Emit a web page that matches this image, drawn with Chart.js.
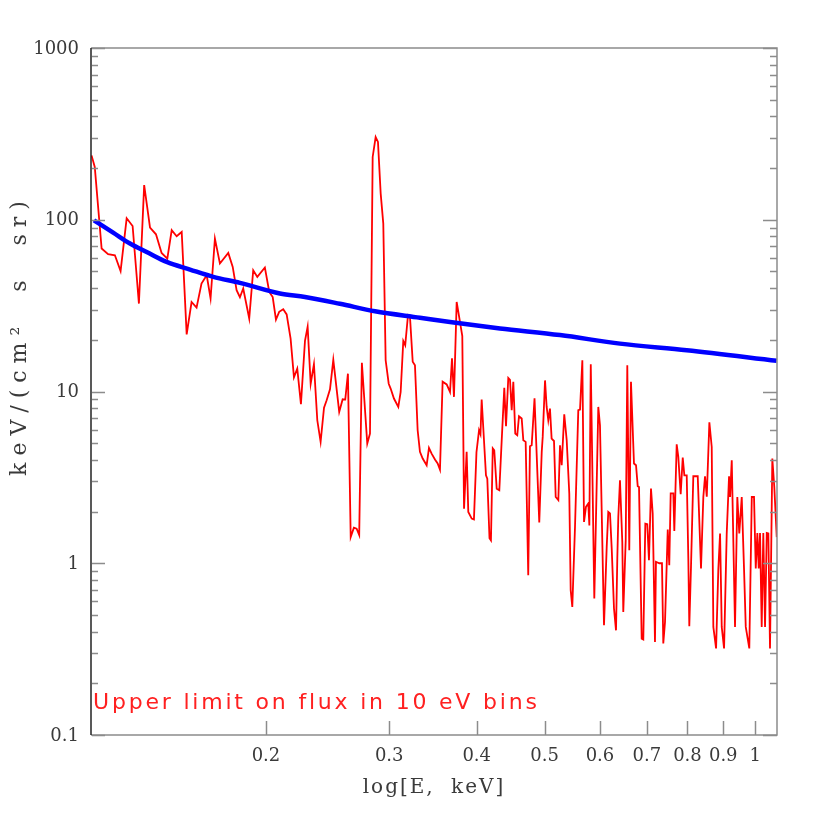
<!DOCTYPE html>
<html lang="en">
<head>
<meta charset="UTF-8">
<title>Upper limit on flux in 10 eV bins</title>
<script src="https://cdn.jsdelivr.net/npm/chart.js"></script>
<style>
  body { margin: 0; background: #fff; }
</style>
</head>
<body>
<canvas id="fluxChart" width="830" height="822"></canvas>
<script>
// energies (keV) and upper-limit flux
const energyRed = [
  0.1127, 0.1139, 0.1165, 0.1190, 0.1217, 0.1240, 0.1265, 0.1290, 0.1317, 0.1340,
  0.1366, 0.1393, 0.1419, 0.1446, 0.1467, 0.1491, 0.1516, 0.1541, 0.1566, 0.1592,
  0.1618, 0.1646, 0.1667, 0.1691, 0.1719, 0.1767, 0.1793, 0.1816, 0.1836, 0.1856,
  0.1893, 0.1918, 0.1944, 0.1993, 0.2022, 0.2045, 0.2067, 0.2089, 0.2117, 0.2141,
  0.2169, 0.2193, 0.2217, 0.2244, 0.2274, 0.2294, 0.2317, 0.2342, 0.2368, 0.2394,
  0.2421, 0.2442, 0.2469, 0.2496, 0.2545, 0.2574, 0.2596, 0.2619, 0.2643, 0.2671,
  0.2695, 0.2718, 0.2742, 0.2791, 0.2816, 0.2841, 0.2869, 0.2891, 0.2917, 0.2942,
  0.2965, 0.2995, 0.3014, 0.3047, 0.3091, 0.3115, 0.3142, 0.3162, 0.3191, 0.3212,
  0.3241, 0.3265, 0.3294, 0.3319, 0.3349, 0.3393, 0.3419, 0.3449, 0.3487, 0.3518,
  0.3545, 0.3576, 0.3624, 0.3664, 0.3688, 0.3712, 0.3745, 0.3786, 0.3815, 0.3837,
  0.3870, 0.3891, 0.3935, 0.3964, 0.3997, 0.4031, 0.4050, 0.4066, 0.4124, 0.4142,
  0.4172, 0.4192, 0.4217, 0.4238, 0.4272, 0.4309, 0.4343, 0.4380, 0.4405, 0.4438,
  0.4463, 0.4488, 0.4512, 0.4541, 0.4571, 0.4597, 0.4638, 0.4663, 0.4699, 0.4739,
  0.4766, 0.4793, 0.4838, 0.4914, 0.4954, 0.4970, 0.5008, 0.5035, 0.5062, 0.5090,
  0.5118, 0.5158, 0.5187, 0.5232, 0.5261, 0.5290, 0.5335, 0.5378, 0.5424, 0.5449,
  0.5478, 0.5527, 0.5587, 0.5619, 0.5662, 0.5693, 0.5730, 0.5774, 0.5794, 0.5821,
  0.5889, 0.5967, 0.6000, 0.6080, 0.6134, 0.6166, 0.6201, 0.6236, 0.6283, 0.6325,
  0.6352, 0.6373, 0.6408, 0.6457, 0.6478, 0.6530, 0.6564, 0.6607, 0.6644, 0.6710,
  0.6755, 0.6793, 0.6822, 0.6882, 0.6919, 0.6965, 0.7010, 0.7049, 0.7096, 0.7136,
  0.7190, 0.7213, 0.7293, 0.7357, 0.7389, 0.7431, 0.7498, 0.7536, 0.7571, 0.7637,
  0.7662, 0.7722, 0.7763, 0.7824, 0.7877, 0.7919, 0.7981, 0.8023, 0.8049, 0.8094,
  0.8156, 0.8275, 0.8365, 0.8429, 0.8476, 0.8525, 0.8598, 0.8665, 0.8711, 0.8790,
  0.8855, 0.8906, 0.8955, 0.9024, 0.9103, 0.9173, 0.9204, 0.9255, 0.9355, 0.9426,
  0.9487, 0.9564, 0.9637, 0.9691, 0.9805, 0.9885, 0.9958, 1.0015, 1.0068, 1.0114,
  1.0157, 1.0213, 1.0267, 1.0326, 1.0384, 1.0439, 1.0496, 1.0576, 1.0645, 1.0731
];
const fluxRed = [
  237, 203, 68.0, 63.0, 62.1, 50.3, 102, 92.0, 32.5, 159,
  90.1, 82.3, 64.1, 59.4, 86.9, 80.2, 84.9, 21.5, 33.2, 30.8,
  42.5, 47.5, 34.8, 77.7, 55.6, 64.1, 53.1, 38.9, 35.4, 39.8,
  26.6, 50.8, 46.5, 52.7, 38.0, 35.5, 26.2, 29.1, 30.1, 28.1,
  20.3, 12.1, 13.6, 8.43, 19.7, 23.8, 11.1, 14.4, 6.80, 5.09,
  8.06, 8.89, 10.3, 15.3, 7.60, 9.01, 8.98, 12.7, 1.42, 1.61,
  1.59, 1.46, 14.7, 4.98, 5.69, 232, 303, 284, 142, 95.0,
  15.2, 11.1, 10.4, 9.10, 8.13, 9.94, 19.7, 18.6, 27.8, 27.2,
  14.9, 14.2, 5.95, 4.45, 4.07, 3.72, 4.69, 4.35, 4.02, 3.81,
  3.51, 11.4, 11.0, 9.94, 15.6, 9.30, 33.2, 25.4, 21.0, 2.08,
  4.45, 1.99, 1.82, 1.80, 4.43, 5.95, 5.64, 8.98, 3.25, 3.11,
  1.40, 1.36, 4.67, 4.55, 2.72, 2.66, 5.20, 10.5, 6.28, 12.0,
  11.7, 7.78, 11.4, 5.69, 5.56, 7.18, 6.96, 5.20, 5.09, 0.851,
  4.80, 4.86, 9.14, 1.73, 4.45, 5.44, 11.6, 8.13, 6.80, 7.96,
  5.32, 5.15, 2.43, 2.33, 4.86, 3.72, 7.37, 5.20, 2.55, 0.696,
  0.556, 1.63, 7.78, 7.85, 15.2, 1.74, 2.13, 2.23, 1.66, 14.4,
  0.623, 8.13, 6.36, 0.436, 1.24, 1.99, 1.95, 1.22, 0.545, 0.407,
  1.07, 1.86, 3.04, 1.33, 0.521, 1.36, 14.2, 1.19, 11.4, 3.81,
  3.72, 2.81, 2.78, 0.364, 0.360, 1.70, 1.69, 1.04, 2.72, 1.95,
  0.348, 1.02, 1.00, 1.00, 0.341, 0.455, 1.57, 0.973, 2.55, 2.55,
  1.54, 4.93, 4.16, 2.52, 4.13, 3.25, 3.25, 1.07, 0.430, 0.952,
  3.21, 3.21, 0.931, 2.43, 3.21, 2.44, 6.62, 4.75, 0.426, 0.319,
  0.919, 1.49, 0.426, 0.319, 1.49, 3.21, 2.43, 3.98, 0.426, 2.43,
  1.49, 2.43, 0.919, 0.426, 0.319, 2.43, 2.43, 0.931, 1.50, 0.931,
  1.50, 0.426, 1.50, 0.426, 1.50, 1.49, 0.319, 4.07, 2.78, 1.42
];

// smooth reference curve
const energyBlue = [0.1136, 0.1210, 0.1279, 0.1351, 0.1443, 0.1558, 0.1682, 0.1836, 0.2094, 0.2274,
                    0.2551, 0.2863, 0.3319, 0.3664, 0.4319, 0.5261, 0.6408, 0.7981, 1.0731];
const fluxBlue = [99.3, 84.2, 72.7, 64.9, 56.8, 51.3, 46.5, 42.9, 37.2, 35.5,
                  32.4, 29.3, 26.9, 25.4, 23.3, 21.3, 19.0, 17.4, 15.1];

const xTickValues = [0.2, 0.3, 0.4, 0.5, 0.6, 0.7, 0.8, 0.9, 1];
const xTickLabels = ['0.2', '0.3', '0.4', '0.5', '0.6', '0.7', '0.8', '0.9', '1'];
const yTickValues = [0.1, 1, 10, 100, 1000];
const yTickLabels = ['0.1', '1', '10', '100', '1000'];

const serif = '"DejaVu Serif", serif';

// box, ticks and all the text, drawn from the chart's own scales
const axisDecor = {
  id: 'axisDecor',
  afterDraw(chart) {
    const { ctx, chartArea: area } = chart;
    const xs = chart.scales.x, ys = chart.scales.y;
    ctx.save();

    ctx.lineWidth = 1.5;
    ctx.strokeStyle = '#8c8c8c';
    ctx.beginPath();
    ctx.moveTo(area.left, area.top);
    ctx.lineTo(area.right, area.top);
    ctx.lineTo(area.right, area.bottom);
    ctx.lineTo(area.left, area.bottom);
    ctx.stroke();
    ctx.strokeStyle = '#222';
    ctx.beginPath();
    ctx.moveTo(area.left, area.top);
    ctx.lineTo(area.left, area.bottom);
    ctx.stroke();

    // y ticks on both sides, decades long, 2..9 short
    ctx.strokeStyle = '#8c8c8c';
    for (let p = -1; p <= 3; p++) {
      for (let m = 1; m <= 9; m++) {
        if (p === 3 && m > 1) break;
        const py = Math.round(ys.getPixelForValue(m * Math.pow(10, p))) + 0.5;
        const len = m === 1 ? 14 : 7;
        ctx.beginPath();
        ctx.moveTo(area.left + 1, py); ctx.lineTo(area.left + len, py);
        ctx.moveTo(area.right, py); ctx.lineTo(area.right - len, py);
        ctx.stroke();
      }
    }
    xTickValues.forEach(v => {
      const px = Math.round(xs.getPixelForValue(v)) + 0.5;
      ctx.beginPath();
      ctx.moveTo(px, area.bottom);
      ctx.lineTo(px, area.bottom - 14);
      ctx.stroke();
    });

    // tick labels
    ctx.fillStyle = '#3a3a3a';
    ctx.font = '18px ' + serif;
    ctx.textAlign = 'right';
    ctx.textBaseline = 'middle';
    yTickValues.forEach((v, i) => {
      ctx.fillText(yTickLabels[i], area.left - 12, ys.getPixelForValue(v) + 1);
    });
    ctx.textAlign = 'center';
    xTickValues.forEach((v, i) => {
      ctx.fillText(xTickLabels[i], xs.getPixelForValue(v), area.bottom + 21);
    });

    // axis titles
    ctx.font = '20px ' + serif;
    ctx.letterSpacing = '2px';
    ctx.wordSpacing = '8px';
    ctx.fillText('log[E, keV]', (area.left + area.right) / 2, area.bottom + 53);
    ctx.save();
    ctx.translate(20, 335);
    ctx.rotate(-Math.PI / 2);
    ctx.font = '22px ' + serif;
    ctx.letterSpacing = '7px';
    ctx.wordSpacing = '14px';
    ctx.fillText('keV/(cm\u00B2 s sr)', 0, 0);
    ctx.restore();

    // note inside the plot
    ctx.fillStyle = '#ff2020';
    ctx.font = '22px "DejaVu Sans", sans-serif';
    ctx.letterSpacing = '2.8px';
    ctx.wordSpacing = '0px';
    ctx.textAlign = 'left';
    ctx.textBaseline = 'alphabetic';
    ctx.fillText('Upper limit on flux in 10 eV bins', area.left + 2, 709);
    ctx.restore();
  }
};

const ctx = document.getElementById('fluxChart').getContext('2d');
const fluxChart = new Chart(ctx, {
  type: 'line',
  data: {
    datasets: [
      {
        label: 'model',
        data: energyBlue.map((e, i) => ({ x: e, y: fluxBlue[i] })),
        borderColor: '#0000ff',
        borderWidth: 4.5,
        pointRadius: 0,
        cubicInterpolationMode: 'monotone',
        fill: false
      },
      {
        label: 'upper limit',
        data: energyRed.map((e, i) => ({ x: e, y: fluxRed[i] })),
        borderColor: '#ff0000',
        borderWidth: 1.8,
        pointRadius: 0,
        tension: 0,
        fill: false
      }
    ]
  },
  options: {
    responsive: false,
    animation: false,
    layout: { padding: { left: 91, right: 53, top: 48, bottom: 87 } },
    plugins: { legend: { display: false }, tooltip: { enabled: false } },
    scales: {
      x: { type: 'logarithmic', display: false, min: 0.1125, max: 1.074 },
      y: { type: 'logarithmic', display: false, min: 0.1, max: 1000 }
    }
  },
  plugins: [axisDecor]
});
</script>
</body>
</html>
